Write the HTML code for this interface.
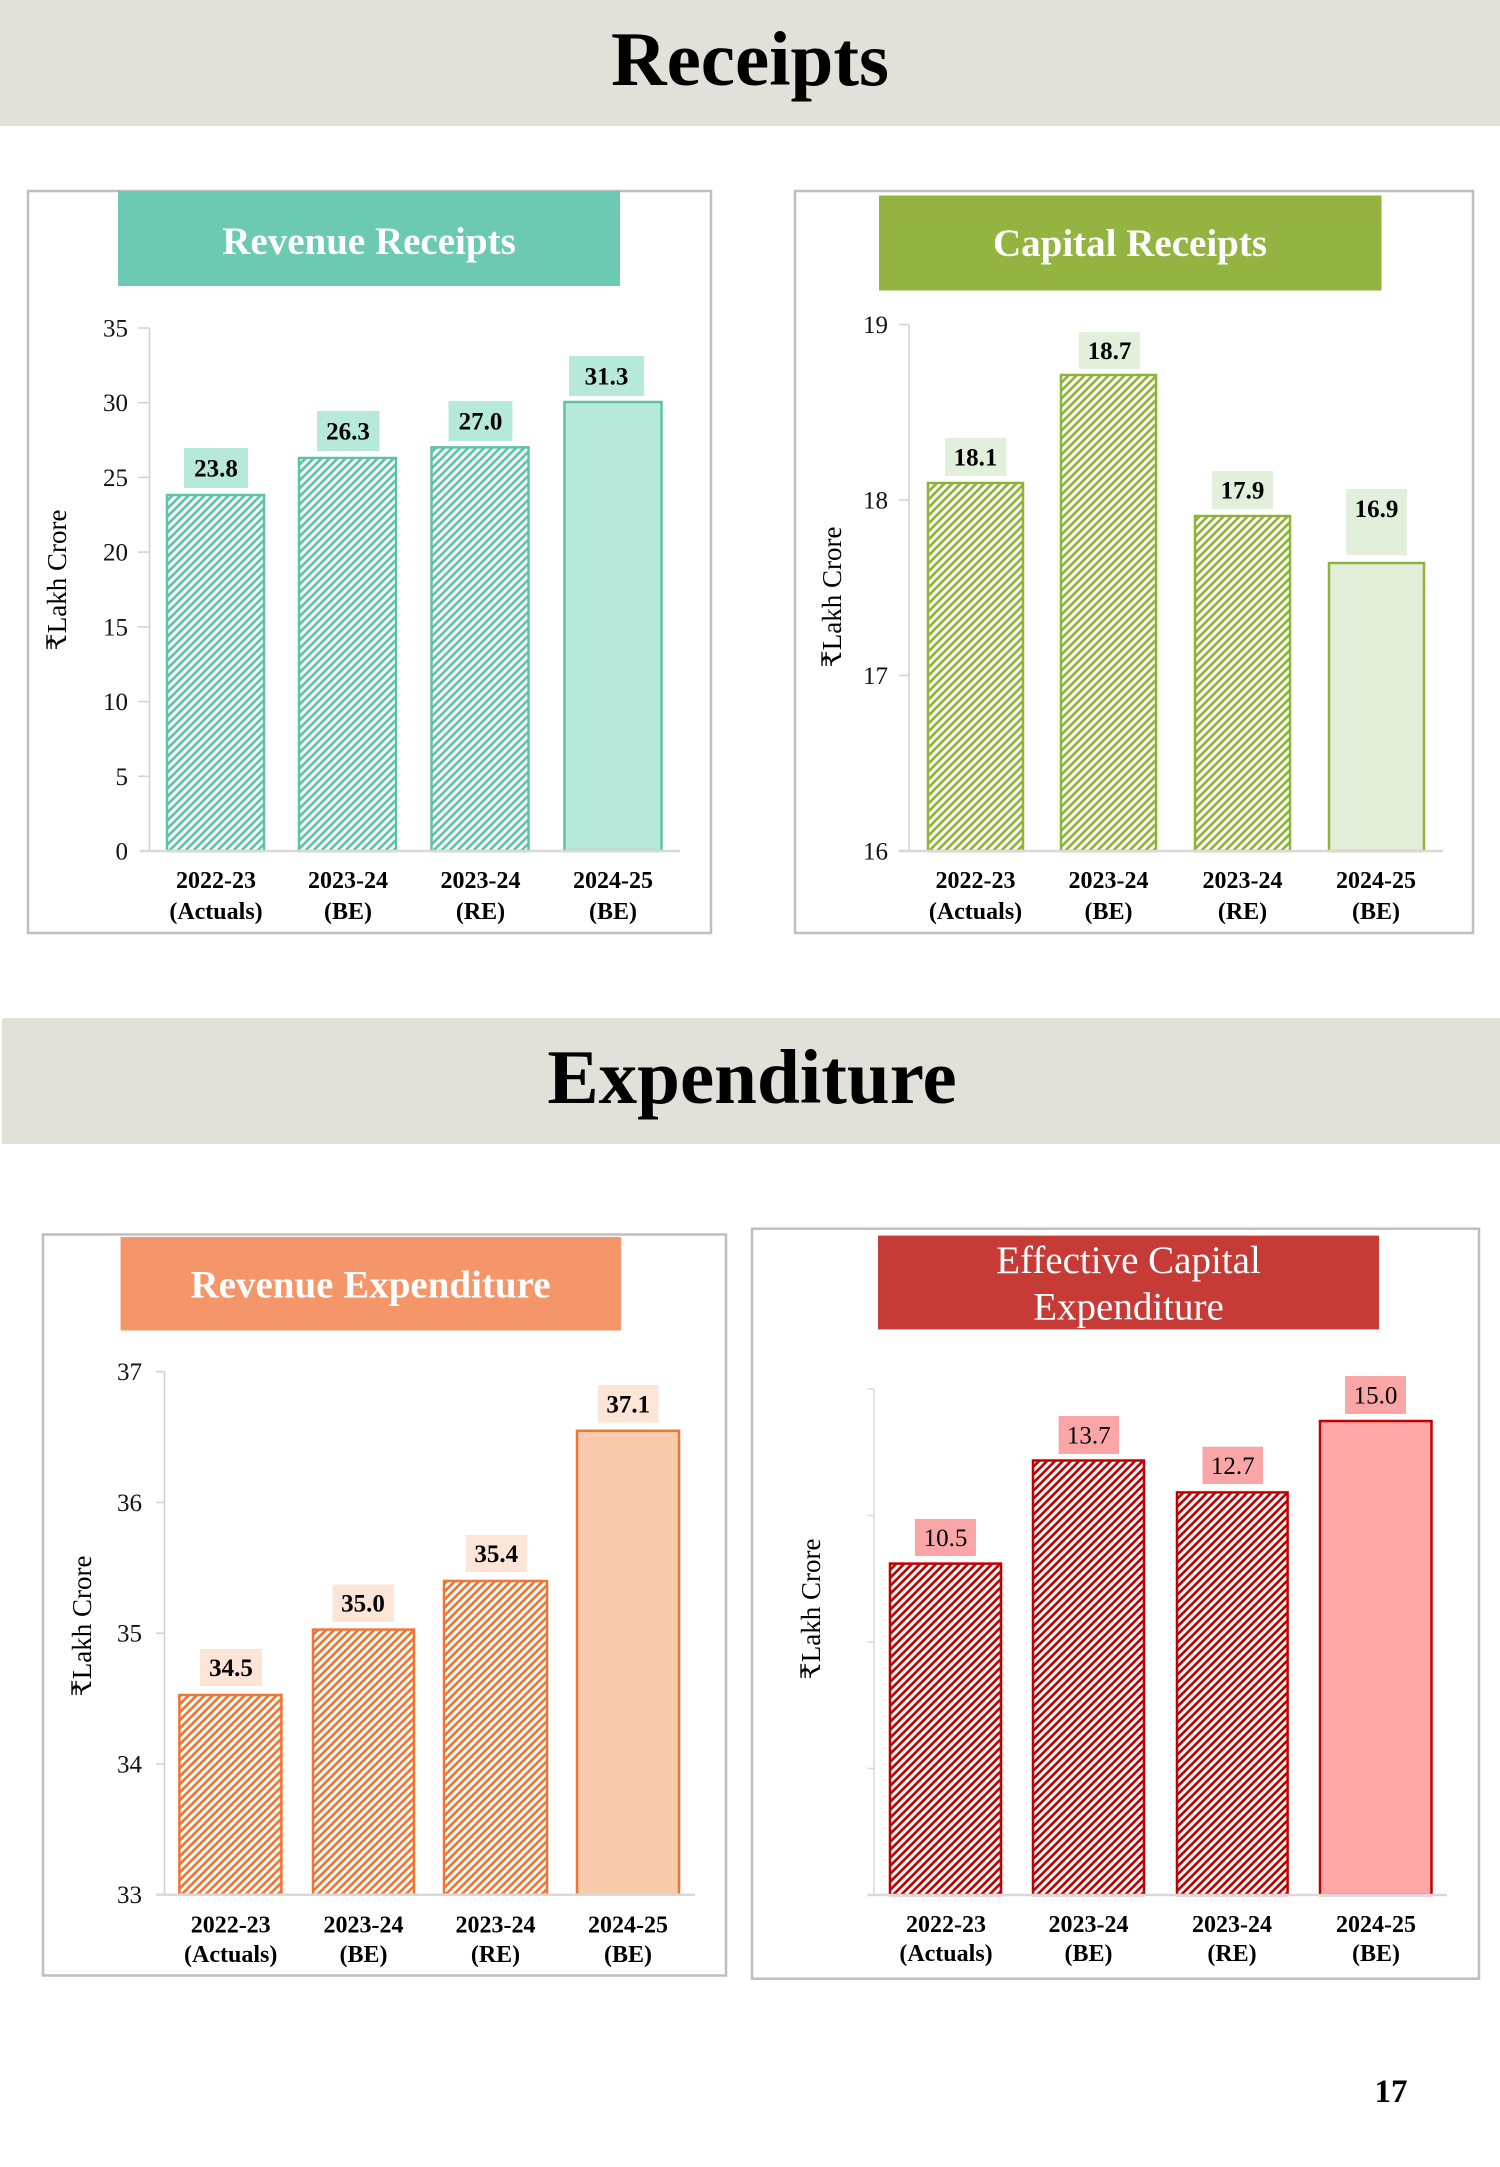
<!DOCTYPE html>
<html>
<head>
<meta charset="utf-8">
<style>
  html,body{margin:0;padding:0;background:#fff;}
  body{width:1500px;height:2167px;overflow:hidden;}
  svg{display:block;}
  text{font-family:"Liberation Serif","Times New Roman","DejaVu Serif",serif;}
  .ttl{font-size:77px;font-weight:bold;fill:#000;}
  .ct{font-size:39px;font-weight:bold;fill:#fff;}
  .ctr{font-size:39px;fill:#fff;}
  .tk{font-size:25px;fill:#111;}
  .vl{font-size:25px;font-weight:bold;fill:#000;}
  .vr{font-size:25px;fill:#000;}
  .cat{font-size:24px;font-weight:bold;fill:#000;}
  .yt{font-size:27px;fill:#000;}
</style>
</head>
<body>
<svg width="1500" height="2167" viewBox="0 0 1500 2167" xmlns="http://www.w3.org/2000/svg">
  <defs>
    <pattern id="hTeal" patternUnits="userSpaceOnUse" width="8" height="8">
      <rect width="8" height="8" fill="#5EC3A5"/>
      <path d="M0,8 L8,0 M-2,2 L2,-2 M6,10 L10,6" stroke="#fff" stroke-width="3"/>
    </pattern>
    <pattern id="hGreen" patternUnits="userSpaceOnUse" width="8" height="8">
      <rect width="8" height="8" fill="#8DB33A"/>
      <path d="M0,8 L8,0 M-2,2 L2,-2 M6,10 L10,6" stroke="#fff" stroke-width="3"/>
    </pattern>
    <pattern id="hOrange" patternUnits="userSpaceOnUse" width="8" height="8">
      <rect width="8" height="8" fill="#F07432"/>
      <path d="M0,8 L8,0 M-2,2 L2,-2 M6,10 L10,6" stroke="#fff" stroke-width="3"/>
    </pattern>
    <pattern id="hRed" patternUnits="userSpaceOnUse" width="8" height="8">
      <rect width="8" height="8" fill="#C00000"/>
      <path d="M0,8 L8,0 M-2,2 L2,-2 M6,10 L10,6" stroke="#fff" stroke-width="3"/>
    </pattern>
  </defs>

  <!-- Receipts band -->
  <rect x="0" y="0" width="1500" height="126" fill="#E3DFD9"/>
  <text class="ttl" x="750" y="85" text-anchor="middle">Receipts</text>

  <!-- Expenditure band -->
  <rect x="2" y="1018" width="1498" height="126" fill="#E3DFD9"/>
  <text class="ttl" x="752" y="1103" text-anchor="middle">Expenditure</text>

  <!-- ============ Chart 1: Revenue Receipts ============ -->
  <rect x="28" y="191" width="683" height="742" fill="#fff" stroke="#BFBFBF" stroke-width="2.5"/>
  <rect x="118" y="191" width="502" height="95" fill="#6CCAB2"/>
  <text class="ct" x="369" y="254" text-anchor="middle">Revenue Receipts</text>

  <line x1="149.5" y1="328" x2="149.5" y2="851" stroke="#D0D0D0" stroke-width="1.5"/>
  <g stroke="#D0D0D0" stroke-width="1.5">
    <line x1="138" y1="328" x2="149.5" y2="328"/>
    <line x1="138" y1="402.7" x2="149.5" y2="402.7"/>
    <line x1="138" y1="477.4" x2="149.5" y2="477.4"/>
    <line x1="138" y1="552.1" x2="149.5" y2="552.1"/>
    <line x1="138" y1="626.9" x2="149.5" y2="626.9"/>
    <line x1="138" y1="701.6" x2="149.5" y2="701.6"/>
    <line x1="138" y1="776.3" x2="149.5" y2="776.3"/>
  </g>
  <g class="tk" text-anchor="end">
    <text x="128" y="336.5">35</text>
    <text x="128" y="411.2">30</text>
    <text x="128" y="485.9">25</text>
    <text x="128" y="560.6">20</text>
    <text x="128" y="635.4">15</text>
    <text x="128" y="710.1">10</text>
    <text x="128" y="784.8">5</text>
    <text x="128" y="859.5">0</text>
  </g>
  <rect x="167" y="495" width="97" height="356" fill="url(#hTeal)" stroke="#5EC3A5" stroke-width="2.5"/>
  <rect x="299" y="458" width="97" height="393" fill="url(#hTeal)" stroke="#5EC3A5" stroke-width="2.5"/>
  <rect x="431.5" y="447.4" width="97" height="403.6" fill="url(#hTeal)" stroke="#5EC3A5" stroke-width="2.5"/>
  <rect x="564.5" y="402" width="97" height="449" fill="#B6E9DC" stroke="#5EC3A5" stroke-width="2.5"/>
  <line x1="140" y1="851" x2="680" y2="851" stroke="#D9D9D9" stroke-width="2.5"/>
  <rect x="184" y="448" width="64" height="40" fill="#B6E9DC"/>
  <rect x="317" y="411" width="62.5" height="40" fill="#B6E9DC"/>
  <rect x="448.5" y="401" width="64" height="40" fill="#B6E9DC"/>
  <rect x="569" y="356" width="75" height="40" fill="#B6E9DC"/>
  <g class="vl" text-anchor="middle">
    <text x="216" y="476.5">23.8</text>
    <text x="348" y="439.5">26.3</text>
    <text x="480.5" y="429.5">27.0</text>
    <text x="606.5" y="384.5">31.3</text>
  </g>
  <g class="cat" text-anchor="middle">
    <text x="216" y="888">2022-23</text><text x="216" y="919">(Actuals)</text>
    <text x="348" y="888">2023-24</text><text x="348" y="919">(BE)</text>
    <text x="480.5" y="888">2023-24</text><text x="480.5" y="919">(RE)</text>
    <text x="613" y="888">2024-25</text><text x="613" y="919">(BE)</text>
  </g>
  <text class="yt" transform="translate(66,580) rotate(-90)" text-anchor="middle">₹Lakh Crore</text>

  <!-- ============ Chart 2: Capital Receipts ============ -->
  <rect x="795" y="191" width="678" height="742" fill="#fff" stroke="#BFBFBF" stroke-width="2.5"/>
  <rect x="879" y="195.5" width="502.5" height="95" fill="#93B441"/>
  <text class="ct" x="1130" y="256" text-anchor="middle">Capital Receipts</text>

  <line x1="909" y1="324.5" x2="909" y2="851" stroke="#D0D0D0" stroke-width="1.5"/>
  <g stroke="#D0D0D0" stroke-width="1.5">
    <line x1="899" y1="324.5" x2="909" y2="324.5"/>
    <line x1="899" y1="500" x2="909" y2="500"/>
    <line x1="899" y1="675.5" x2="909" y2="675.5"/>
  </g>
  <g class="tk" text-anchor="end">
    <text x="888" y="333">19</text>
    <text x="888" y="508.5">18</text>
    <text x="888" y="684">17</text>
    <text x="888" y="859.5">16</text>
  </g>
  <rect x="928" y="483" width="95" height="368" fill="url(#hGreen)" stroke="#8DB33A" stroke-width="2.5"/>
  <rect x="1061" y="375" width="95" height="476" fill="url(#hGreen)" stroke="#8DB33A" stroke-width="2.5"/>
  <rect x="1195" y="516" width="95" height="335" fill="url(#hGreen)" stroke="#8DB33A" stroke-width="2.5"/>
  <rect x="1329" y="563" width="95" height="288" fill="#E3EFD9" stroke="#8DB33A" stroke-width="2.5"/>
  <line x1="899" y1="851" x2="1443" y2="851" stroke="#D9D9D9" stroke-width="2.5"/>
  <rect x="945" y="438" width="61.5" height="38" fill="#E2EFDA"/>
  <rect x="1079" y="332" width="61" height="37" fill="#E2EFDA"/>
  <rect x="1212" y="471" width="61" height="38" fill="#E2EFDA"/>
  <rect x="1346" y="489" width="61" height="66" fill="#E2EFDA"/>
  <g class="vl" text-anchor="middle">
    <text x="975.5" y="465.5">18.1</text>
    <text x="1109.5" y="359">18.7</text>
    <text x="1242.5" y="498.5">17.9</text>
    <text x="1376.5" y="517">16.9</text>
  </g>
  <g class="cat" text-anchor="middle">
    <text x="975.5" y="888">2022-23</text><text x="975.5" y="919">(Actuals)</text>
    <text x="1108.5" y="888">2023-24</text><text x="1108.5" y="919">(BE)</text>
    <text x="1242.5" y="888">2023-24</text><text x="1242.5" y="919">(RE)</text>
    <text x="1376" y="888">2024-25</text><text x="1376" y="919">(BE)</text>
  </g>
  <text class="yt" transform="translate(841,597) rotate(-90)" text-anchor="middle">₹Lakh Crore</text>

  <!-- ============ Chart 3: Revenue Expenditure ============ -->
  <rect x="43" y="1234.5" width="683" height="741" fill="#fff" stroke="#BFBFBF" stroke-width="2.5"/>
  <rect x="120.6" y="1237" width="500.5" height="93.5" fill="#F4956A"/>
  <text class="ct" x="370.5" y="1297.5" text-anchor="middle">Revenue Expenditure</text>

  <line x1="164.5" y1="1371.7" x2="164.5" y2="1894.7" stroke="#D0D0D0" stroke-width="1.5"/>
  <g stroke="#D0D0D0" stroke-width="1.5">
    <line x1="156" y1="1371.7" x2="164.5" y2="1371.7"/>
    <line x1="156" y1="1502.5" x2="164.5" y2="1502.5"/>
    <line x1="156" y1="1633.2" x2="164.5" y2="1633.2"/>
    <line x1="156" y1="1764" x2="164.5" y2="1764"/>
  </g>
  <g class="tk" text-anchor="end">
    <text x="142" y="1380.2">37</text>
    <text x="142" y="1511">36</text>
    <text x="142" y="1641.7">35</text>
    <text x="142" y="1772.5">34</text>
    <text x="142" y="1903.2">33</text>
  </g>
  <rect x="179.4" y="1695" width="102" height="199.7" fill="url(#hOrange)" stroke="#F07432" stroke-width="2.5"/>
  <rect x="313" y="1629.6" width="101" height="265.1" fill="url(#hOrange)" stroke="#F07432" stroke-width="2.5"/>
  <rect x="444" y="1581" width="103" height="313.7" fill="url(#hOrange)" stroke="#F07432" stroke-width="2.5"/>
  <rect x="577" y="1430.8" width="102" height="463.9" fill="#F8CBAD" stroke="#F07432" stroke-width="2.5"/>
  <line x1="156" y1="1894.7" x2="695" y2="1894.7" stroke="#D9D9D9" stroke-width="2.5"/>
  <rect x="200" y="1649" width="62" height="37" fill="#FCE4D6"/>
  <rect x="332.5" y="1584.5" width="61" height="37.5" fill="#FCE4D6"/>
  <rect x="465.6" y="1535" width="61.4" height="37" fill="#FCE4D6"/>
  <rect x="598" y="1385" width="60.5" height="37.6" fill="#FCE4D6"/>
  <g class="vl" text-anchor="middle">
    <text x="231" y="1676">34.5</text>
    <text x="363" y="1611.7">35.0</text>
    <text x="496.3" y="1562">35.4</text>
    <text x="628.3" y="1412.3">37.1</text>
  </g>
  <g class="cat" text-anchor="middle">
    <text x="230.7" y="1932.5">2022-23</text><text x="230.7" y="1962">(Actuals)</text>
    <text x="363.5" y="1932.5">2023-24</text><text x="363.5" y="1962">(BE)</text>
    <text x="495.5" y="1932.5">2023-24</text><text x="495.5" y="1962">(RE)</text>
    <text x="628" y="1932.5">2024-25</text><text x="628" y="1962">(BE)</text>
  </g>
  <text class="yt" transform="translate(91,1626) rotate(-90)" text-anchor="middle">₹Lakh Crore</text>

  <!-- ============ Chart 4: Effective Capital Expenditure ============ -->
  <rect x="752" y="1228.7" width="727" height="750" fill="#fff" stroke="#BFBFBF" stroke-width="2.5"/>
  <rect x="878" y="1235.6" width="501" height="93.8" fill="#C73B37"/>
  <text class="ctr" x="1128.5" y="1273" text-anchor="middle">Effective Capital</text>
  <text class="ctr" x="1128.5" y="1319.6" text-anchor="middle">Expenditure</text>

  <line x1="874" y1="1389" x2="874" y2="1895" stroke="#D9D9D9" stroke-width="1.5"/>
  <g stroke="#D9D9D9" stroke-width="1.5">
    <line x1="867.6" y1="1389" x2="874" y2="1389"/>
    <line x1="867.6" y1="1515.5" x2="874" y2="1515.5"/>
    <line x1="867.6" y1="1642" x2="874" y2="1642"/>
    <line x1="867.6" y1="1768.5" x2="874" y2="1768.5"/>
  </g>
  <rect x="890" y="1563.6" width="111" height="331.4" fill="url(#hRed)" stroke="#C00000" stroke-width="2.5"/>
  <rect x="1033" y="1460.5" width="111" height="434.5" fill="url(#hRed)" stroke="#C00000" stroke-width="2.5"/>
  <rect x="1177" y="1492.4" width="110.6" height="402.6" fill="url(#hRed)" stroke="#C00000" stroke-width="2.5"/>
  <rect x="1320" y="1421" width="111.5" height="474" fill="#FFA7A7" stroke="#C00000" stroke-width="2.5"/>
  <line x1="867.6" y1="1895" x2="1447" y2="1895" stroke="#D9D9D9" stroke-width="2.5"/>
  <rect x="915" y="1519" width="61" height="37" fill="#FBA6A6"/>
  <rect x="1058.6" y="1416" width="60.4" height="38" fill="#FBA6A6"/>
  <rect x="1202.5" y="1446.7" width="60.5" height="37.3" fill="#FBA6A6"/>
  <rect x="1345" y="1376" width="61" height="38" fill="#FBA6A6"/>
  <g class="vr" text-anchor="middle">
    <text x="945.5" y="1546">10.5</text>
    <text x="1088.8" y="1443.5">13.7</text>
    <text x="1232.8" y="1474">12.7</text>
    <text x="1375.5" y="1403.5">15.0</text>
  </g>
  <g class="cat" text-anchor="middle">
    <text x="946" y="1932">2022-23</text><text x="946" y="1961">(Actuals)</text>
    <text x="1088.5" y="1932">2023-24</text><text x="1088.5" y="1961">(BE)</text>
    <text x="1232" y="1932">2023-24</text><text x="1232" y="1961">(RE)</text>
    <text x="1376" y="1932">2024-25</text><text x="1376" y="1961">(BE)</text>
  </g>
  <text class="yt" transform="translate(820,1609) rotate(-90)" text-anchor="middle">₹Lakh Crore</text>

  <!-- Page number -->
  <text x="1391" y="2102" text-anchor="middle" style="font-size:33px;font-weight:bold;fill:#000;">17</text>
</svg>
</body>
</html>
